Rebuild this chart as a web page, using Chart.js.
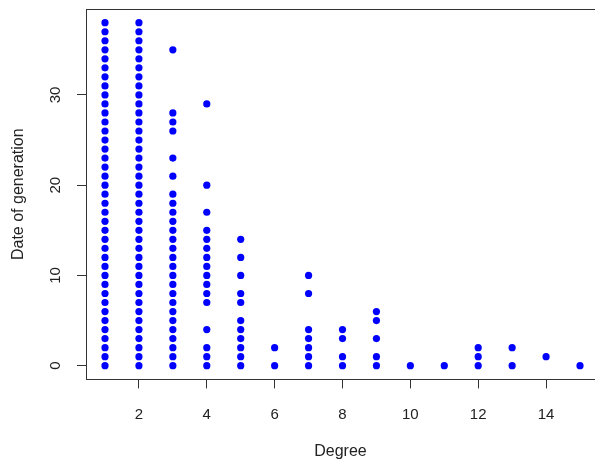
<!DOCTYPE html>
<html>
<head>
<meta charset="utf-8">
<script src="https://cdn.jsdelivr.net/npm/chart.js@4.4.1/dist/chart.umd.min.js"></script>
<style>
  html, body { margin: 0; padding: 0; background: #fff; overflow: hidden; }
  #wrap { width: 595px; height: 460px; }
</style>
</head>
<body>
<div id="wrap"><canvas id="scatter" width="595" height="460"></canvas></div>
<script>
// degree on x, generation dates (y), one list per degree
const degrees = [1, 2, 3, 4, 5, 6, 7, 8, 9, 10, 11, 12, 13, 14, 15];
const dates1  = [0, 1, 2, 3, 4, 5, 6, 7, 8, 9, 10, 11, 12, 13, 14, 15, 16, 17, 18, 19,
                 20, 21, 22, 23, 24, 25, 26, 27, 28, 29, 30, 31, 32, 33, 34, 35, 36, 37, 38];
const dates2  = [0, 1, 2, 3, 4, 5, 6, 7, 8, 9, 10, 11, 12, 13, 14, 15, 16, 17, 18, 19,
                 20, 21, 22, 23, 24, 25, 26, 27, 28, 29, 30, 31, 32, 33, 34, 35, 36, 37, 38];
const dates3  = [0, 1, 2, 3, 4, 5, 6, 7, 8, 9, 10, 11, 12, 13, 14, 15, 16, 17, 18, 19,
                 21, 23, 26, 27, 28, 35];
const dates4  = [0, 1, 2, 4, 7, 8, 9, 10, 11, 12, 13, 14, 15, 17, 20, 29];
const dates5  = [0, 1, 2, 3, 4, 5, 7, 8, 10, 12, 14];
const dates6  = [0, 2];
const dates7  = [0, 1, 2, 3, 4, 8, 10];
const dates8  = [0, 1, 3, 4];
const dates9  = [0, 1, 3, 5, 6];
const dates10 = [0];
const dates11 = [0];
const dates12 = [0, 1, 2];
const dates13 = [0, 2];
const dates14 = [1];
const dates15 = [0];
const dateLists = [dates1, dates2, dates3, dates4, dates5, dates6, dates7, dates8,
                   dates9, dates10, dates11, dates12, dates13, dates14, dates15];

const xTicks = [2, 4, 6, 8, 10, 12, 14];
const yTicks = [0, 10, 20, 30];
const xTitle = 'Degree';
const yTitle = 'Date of generation';

const FONT = "'Liberation Sans', Arial, sans-serif";
const axisColor = '#333';
const textColor = '#222';

const points = [];
degrees.forEach((d, i) => {
  dateLists[i].forEach(v => points.push({ x: d, y: v }));
});

// top edge of the plot box (R draws a full box, right side falls off the canvas)
const boxTop = {
  id: 'boxTop',
  afterDraw(chart) {
    const { ctx, chartArea: a } = chart;
    ctx.save();
    ctx.strokeStyle = axisColor;
    ctx.lineWidth = 1;
    ctx.beginPath();
    ctx.moveTo(a.left, Math.round(a.top) + 0.5);
    ctx.lineTo(a.right, Math.round(a.top) + 0.5);
    ctx.stroke();
    ctx.restore();
  }
};

new Chart(document.getElementById('scatter').getContext('2d'), {
  type: 'scatter',
  data: {
    datasets: [{
      data: points,
      backgroundColor: '#0000ff',
      borderWidth: 0,
      pointRadius: 3.6,
      pointHoverRadius: 3.6
    }]
  },
  options: {
    responsive: false,
    animation: false,
    devicePixelRatio: 1,
    layout: { autoPadding: false, padding: { top: 9, right: 0, bottom: 0, left: 0 } },
    plugins: {
      legend: { display: false },
      tooltip: { enabled: false }
    },
    scales: {
      x: {
        type: 'linear',
        min: 0.44,
        max: 15.442,
        afterBuildTicks: s => { s.ticks = xTicks.map(v => ({ value: v })); },
        afterFit: s => { s.height = 80.6; s.paddingLeft = 0; s.paddingRight = 0; },
        grid: { display: true, drawOnChartArea: false, drawTicks: true, tickLength: 9, color: axisColor },
        border: { display: true, color: axisColor, width: 1 },
        ticks: { color: textColor, font: { family: FONT, size: 15 }, padding: 17, maxRotation: 0 },
        title: {
          display: true, text: xTitle, color: textColor,
          font: { family: FONT, size: 16, lineHeight: 1 },
          padding: { top: 0, bottom: 0 }
        }
      },
      y: {
        type: 'linear',
        min: -1.52,
        max: 39.52,
        afterBuildTicks: s => { s.ticks = yTicks.map(v => ({ value: v })); },
        afterFit: s => { s.width = 86; s.paddingTop = 0; s.paddingBottom = 0; },
        grid: { display: true, drawOnChartArea: false, drawTicks: true, tickLength: 9, color: axisColor },
        border: { display: true, color: axisColor, width: 1 },
        ticks: {
          color: textColor, font: { family: FONT, size: 15 },
          minRotation: 90, maxRotation: 90, crossAlign: 'center', padding: 12.6
        },
        title: {
          display: true, text: yTitle, color: textColor,
          font: { family: FONT, size: 16, lineHeight: 1 },
          padding: { top: 11, bottom: 0 }
        }
      }
    }
  },
  plugins: [boxTop]
});
</script>
</body>
</html>
